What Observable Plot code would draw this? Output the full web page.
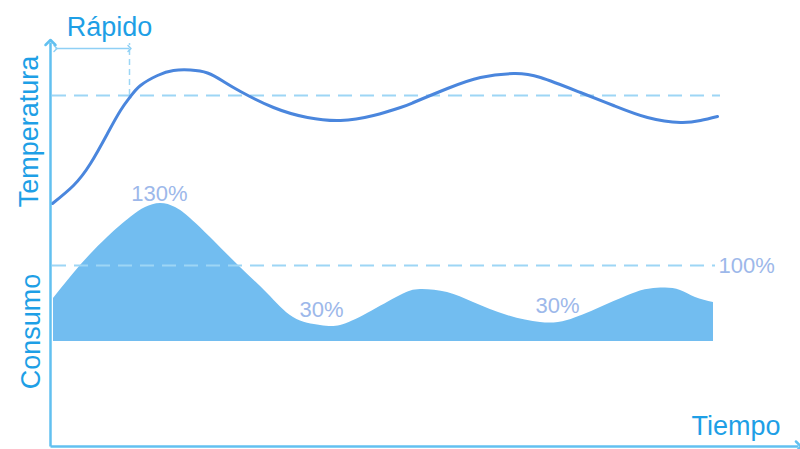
<!DOCTYPE html>
<html>
<head>
<meta charset="utf-8">
<script src="https://cdn.jsdelivr.net/npm/d3@7"></script>
<script src="https://cdn.jsdelivr.net/npm/@observablehq/plot@0.6"></script>
<style>
  html, body { margin: 0; padding: 0; background: #fff; }
  svg { overflow: visible; }
</style>
</head>
<body>
<div id="chart"></div>
<script>
// Time (arbitrary units) and temperature level
const tempTime  = [0.4, 4.6, 8, 11.4, 14, 16, 18, 21.4, 24.6, 28, 31.4, 34.6, 38, 44.6, 51.4, 58, 64.6, 70, 72.6, 79.4, 86, 92.6, 98, 106, 112.6, 119.4, 126, 130, 133.4];
const tempLevel = [48.6, 52.2, 56.6, 62.6, 67.2, 70, 72.2, 74.2, 75.2, 75.3, 74.7, 73, 71, 67.8, 65.8, 65.2, 66.2, 67.8, 68.8, 71.6, 73.8, 74.6, 73.8, 70.8, 68.2, 65.8, 64.8, 65.2, 66];

// Consumption profile (arbitrary level units)
const consTime  = [0.6, 6, 11.4, 16, 19, 22, 25, 28, 32.6, 38, 43.4, 48.6, 54, 58, 63.4, 70, 74, 79.4, 84.6, 91.4, 98, 103.4, 110, 116.6, 120, 123, 126, 129, 132.6];
const consLevel = [29.6, 36.2, 41.8, 45.8, 47.8, 48.6, 47.8, 45.6, 41.2, 35.8, 30.6, 25.8, 24.2, 24.2, 26.6, 30.2, 31.4, 30.8, 28.8, 26.2, 24.8, 25.2, 27.8, 30.6, 31.5, 31.7, 31.2, 29.8, 28.8];
const consBase = 21;

// Reference levels
const tempSetpoint = 70.2;
const cons100 = 36.2;
const rapidEnd = 15.8;

// Labels
const pctLabels = ["130%", "30%", "30%"];
const pctX = [21.8, 54.2, 101.4];
const pctY = [50.6, 27.4, 28.2];
const label100 = "100%";

const temp = tempTime.map((t, i) => ({t, v: tempLevel[i]}));
const cons = consTime.map((t, i) => ({t, v: consLevel[i]}));
const pcts = pctLabels.map((s, i) => ({s, x: pctX[i], y: pctY[i]}));

const axisColor = "#62c0f0";
const labelColor = "#1e9fe6";
const dashColor = "#9dd6f5";
const pctColor = "#9db8ea";
const font = "Liberation Sans, Arial, Helvetica, sans-serif";

const chart = Plot.plot({
  width: 800,
  height: 449,
  marginLeft: 50,
  marginRight: 0,
  marginTop: 46,
  marginBottom: 3,
  style: {fontFamily: font, background: "#fff"},
  x: {domain: [0, 150], axis: null},
  y: {domain: [0, 80], axis: null},
  marks: [
    // consumption area
    Plot.areaY(cons, {x: "t", y1: consBase, y2: "v", fill: "#72bdf0", curve: "natural"}),
    // reference dashed lines
    Plot.ruleY([tempSetpoint], {x1: 0.4, x2: 134, stroke: dashColor, strokeWidth: 2, strokeDasharray: "14,8"}),
    Plot.ruleY([cons100], {x1: 0.4, x2: 133, stroke: dashColor, strokeWidth: 2, strokeDasharray: "14,8"}),
    Plot.ruleX([rapidEnd], {y1: tempSetpoint, y2: 80.6, stroke: dashColor, strokeWidth: 1.5, strokeDasharray: "6,4"}),
    // Rápido double arrow
    Plot.link([{x1: 1, x2: rapidEnd, y: 79.6}], {x1: "x1", x2: "x2", y1: "y", y2: "y", stroke: "#8fd0f5", strokeWidth: 1.5, markerStart: "arrow", markerEnd: "arrow"}),
    // temperature line
    Plot.line(temp, {x: "t", y: "v", stroke: "#4a86dd", strokeWidth: 3, curve: "natural"}),
    // axes
    Plot.link([{x1: 0, y1: 0, x2: 0, y2: 80.8}], {x1: "x1", y1: "y1", x2: "x2", y2: "y2", stroke: axisColor, strokeWidth: 2.5, markerEnd: "arrow"}),
    Plot.link([{x1: 0, y1: 0, x2: 149.6, y2: 0}], {x1: "x1", y1: "y1", x2: "x2", y2: "y2", stroke: axisColor, strokeWidth: 2.5, markerEnd: "arrow"}),
    // percentage labels
    Plot.text(pcts, {x: "x", y: "y", text: "s", fill: pctColor, fontSize: 22, lineAnchor: "middle"}),
    Plot.text([label100], {x: 133.6, y: cons100, text: d => d, textAnchor: "start", fill: pctColor, fontSize: 22, lineAnchor: "middle"}),
    // axis titles
    Plot.text(["Temperatura"], {x: -4.2, y: 63, text: d => d, rotate: -90, fill: labelColor, fontSize: 27, lineAnchor: "middle"}),
    Plot.text(["Consumo"], {x: -3.9, y: 23, text: d => d, rotate: -90, fill: labelColor, fontSize: 27, lineAnchor: "middle"}),
    Plot.text(["Tiempo"], {x: 146, y: 4, text: d => d, textAnchor: "end", fill: labelColor, fontSize: 27, lineAnchor: "middle"}),
    Plot.text(["Rápido"], {x: 11.8, y: 83.8, text: d => d, fill: labelColor, fontSize: 27, lineAnchor: "middle"})
  ]
});
document.getElementById("chart").appendChild(chart);
</script>
</body>
</html>
